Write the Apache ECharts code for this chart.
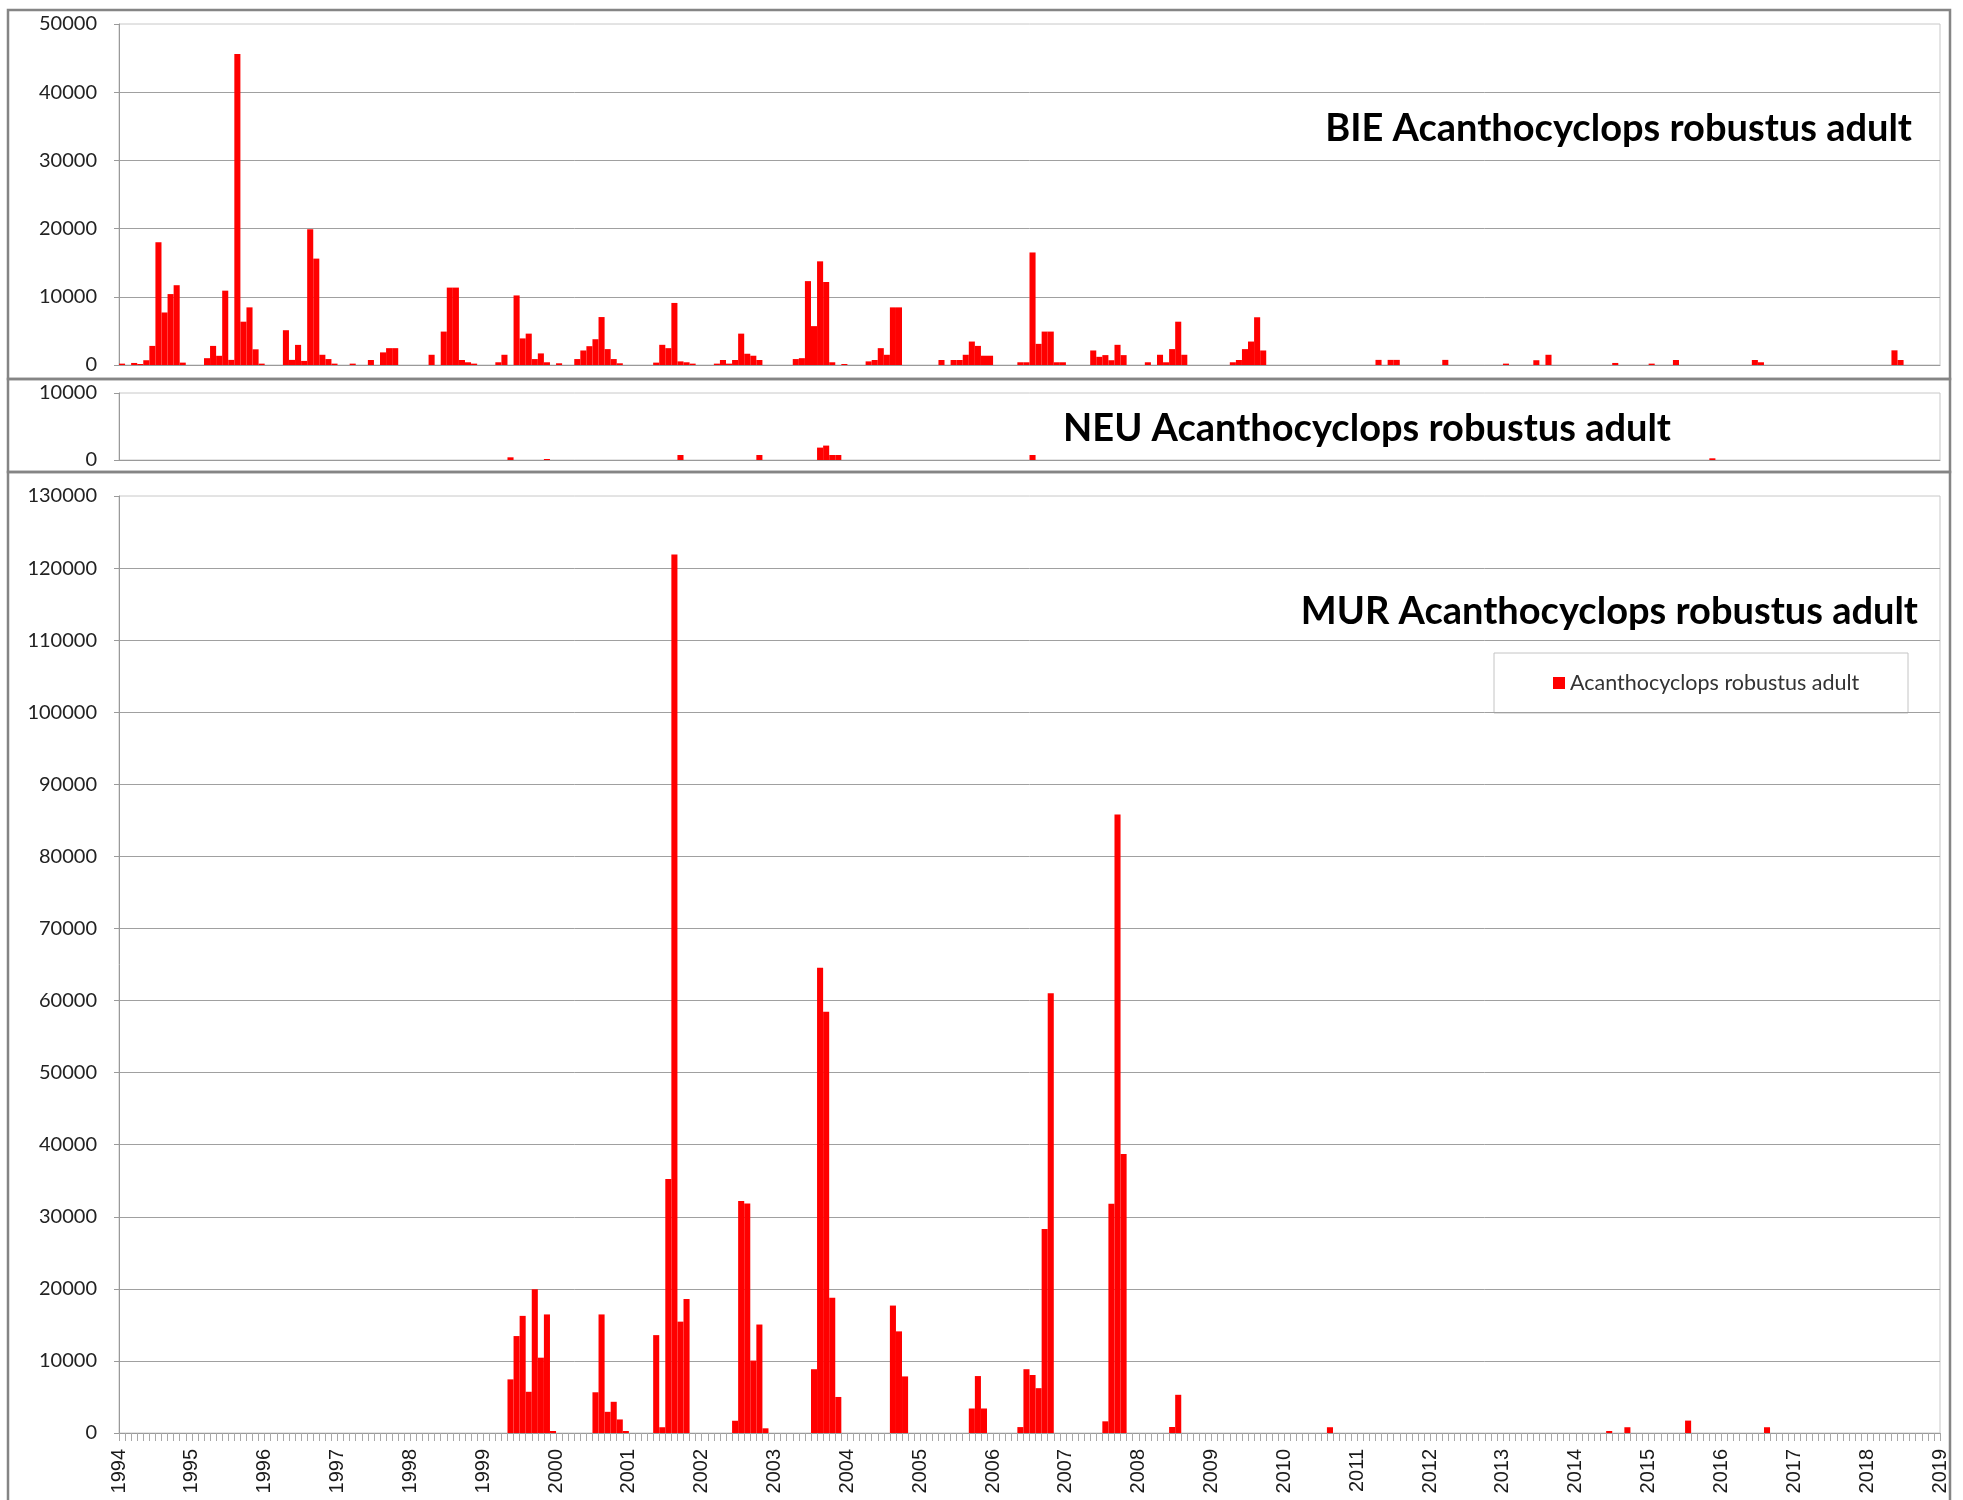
<!DOCTYPE html>
<html>
<head>
<meta charset="utf-8">
<script src="https://cdn.jsdelivr.net/npm/echarts@6/dist/echarts.min.js"></script>
<style>
html,body{margin:0;padding:0;background:#fff;}
#chart{width:1963px;height:1500px;}
</style>
</head>
<body>
<div id="chart"></div>
<script>
// ---------- DATA ----------
const yearTicks = [1994, 2019];
const seriesName = 'Acanthocyclops robustus adult';
const titleBIE = 'BIE Acanthocyclops robustus adult';
const titleNEU = 'NEU Acanthocyclops robustus adult';
const titleMUR = 'MUR Acanthocyclops robustus adult';

const bieMonths = ['1994-01','1994-03','1994-04','1994-05','1994-06','1994-07','1994-08','1994-09','1994-10','1994-11',
 '1995-03','1995-04','1995-05','1995-06','1995-07','1995-08','1995-09','1995-10','1995-11','1995-12',
 '1996-04','1996-05','1996-06','1996-07','1996-08','1996-09','1996-10','1996-11','1996-12',
 '1997-03','1997-06','1997-08','1997-09','1997-10',
 '1998-04','1998-06','1998-07','1998-08','1998-09','1998-10','1998-11',
 '1999-03','1999-04','1999-06','1999-07','1999-08','1999-09','1999-10','1999-11',
 '2000-01','2000-04','2000-05','2000-06','2000-07','2000-08','2000-09','2000-10','2000-11',
 '2001-05','2001-06','2001-07','2001-08','2001-09','2001-10','2001-11',
 '2002-03','2002-04','2002-05','2002-06','2002-07','2002-08','2002-09','2002-10',
 '2003-04','2003-05','2003-06','2003-07','2003-08','2003-09','2003-10','2003-12',
 '2004-04','2004-05','2004-06','2004-07','2004-08','2004-09',
 '2005-04','2005-06','2005-07','2005-08','2005-09','2005-10','2005-11','2005-12',
 '2006-05','2006-06','2006-07','2006-08','2006-09','2006-10','2006-11','2006-12',
 '2007-05','2007-06','2007-07','2007-08','2007-09','2007-10',
 '2008-02','2008-04','2008-05','2008-06','2008-07','2008-08',
 '2009-04','2009-05','2009-06','2009-07','2009-08','2009-09',
 '2011-04','2011-06','2011-07','2012-03','2013-01','2013-06','2013-08','2014-07','2015-01','2015-05',
 '2016-06','2016-07','2018-05','2018-06'];
const bieValues = [200,300,150,700,2800,18000,7700,10400,11700,350,
 1000,2800,1350,10900,750,45600,6350,8450,2300,200,
 5100,750,2950,600,19900,15600,1500,870,200,
 200,730,1850,2470,2470,
 1500,4900,11350,11350,730,400,200,
 400,1500,10200,3900,4600,870,1700,400,
 250,870,2130,2760,3780,7030,2330,870,250,
 350,2960,2470,9100,530,400,200,
 200,730,200,730,4600,1650,1360,730,
 870,1000,12300,5700,15200,12170,400,150,
 530,730,2470,1500,8450,8450,
 730,730,730,1500,3440,2800,1360,1360,
 400,400,16500,3100,4900,4900,400,400,
 2130,1200,1450,700,2960,1450,
 400,1500,400,2330,6350,1500,
 400,730,2330,3440,7000,2130,
 750,750,750,750,200,700,1500,300,200,730,
 730,400,2150,730];

const neuMonths = ['1999-05','1999-11','2001-09','2002-10','2003-08','2003-09','2003-10','2003-11','2006-07','2015-11'];
const neuValues = [400,150,750,750,1850,2150,750,750,750,250];

const murMonths = ['1999-05','1999-06','1999-07','1999-08','1999-09','1999-10','1999-11','1999-12',
 '2000-07','2000-08','2000-09','2000-10','2000-11','2000-12',
 '2001-05','2001-06','2001-07','2001-08','2001-09','2001-10',
 '2002-06','2002-07','2002-08','2002-09','2002-10','2002-11',
 '2003-07','2003-08','2003-09','2003-10','2003-11',
 '2004-08','2004-09','2004-10',
 '2005-09','2005-10','2005-11',
 '2006-05','2006-06','2006-07','2006-08','2006-09','2006-10',
 '2007-07','2007-08','2007-09','2007-10',
 '2008-06','2008-07',
 '2010-08','2014-06','2014-09','2015-07','2016-08'];
const murValues = [7440,13450,16250,5720,19960,10450,16450,280,
 5650,16450,2940,4330,1880,280,
 13580,800,35250,121900,15450,18600,
 1700,32200,31850,10050,15050,650,
 8850,64550,58450,18750,5000,
 17680,14100,7850,
 3400,7900,3400,
 820,8850,8050,6220,28300,61000,
 1620,31800,85800,38700,
 830,5300,
 800,280,800,1720,800];

const yMaxBIE = 50000, yMaxNEU = 10000, yMaxMUR = 130000, yStep = 10000;

// ---------- BUILD ----------
function toX(s){ const p = s.split('-').map(Number); return p[0] + (p[1] - 0.5) / 12; }
function pairs(ms, vs){ return ms.map((m, i) => [toX(m), vs[i]]); }

const W = 1963;
const plotLeft = 119, plotRight = 1940;
const nMonths = (yearTicks[1] - yearTicks[0]) * 12;
const barW = (plotRight - plotLeft) / nMonths;
const gridDefs = [
  {top: 24, height: 341},
  {top: 393, height: 67},
  {top: 496, height: 937}
];
const red = '#FF0000';
const gridLineColor = '#a0a0a0';
const axisColor = '#9a9a9a';
const labelFont = 'Lato, "Open Sans", sans-serif';

function makeY(idx, max){
  return {
    type: 'value', gridIndex: idx, min: 0, max: max, interval: yStep,
    axisLine: {show: true, lineStyle: {color: axisColor, width: 1}},
    axisTick: {show: true, length: 5, lineStyle: {color: axisColor}},
    axisLabel: {fontFamily: labelFont, fontSize: 20, color: '#222', margin: 22,
      formatter: v => String(v)},
    splitLine: {show: true, showMaxLine: false, lineStyle: {color: gridLineColor, width: 1}}
  };
}
function makeX(idx, withLabels){
  const ax = {
    type: 'value', gridIndex: idx, min: yearTicks[0], max: yearTicks[1], interval: 1,
    axisLine: {show: true, onZero: false, lineStyle: {color: axisColor, width: 1}},
    splitLine: {show: false},
    axisTick: {show: false},
    axisLabel: {show: false}
  };
  if (withLabels){
    ax.axisTick = {show: true, length: 8, lineStyle: {color: '#a8a8a8'}};
    ax.minorTick = {show: true, splitNumber: 12, length: 8, lineStyle: {color: '#a8a8a8'}};
    ax.axisLabel = {show: true, rotate: 90, margin: 16, fontFamily: '"Liberation Sans", Arial, sans-serif',
      fontSize: 20, color: '#1a1a1a', formatter: v => String(v)};
  }
  return ax;
}
function makeSeries(idx, name, data){
  return {
    type: 'bar', name: name, xAxisIndex: idx, yAxisIndex: idx, data: data,
    barWidth: barW, itemStyle: {color: red}, animation: false
  };
}
function frame(x, y, w, h){
  return {type: 'rect', shape: {x: x, y: y, width: w, height: h}, silent: true,
    style: {fill: 'none', stroke: '#858585', lineWidth: 2.5}, z: 100};
}

const titleStyle = {fontFamily: labelFont, fontWeight: 'bold', fontSize: 38, color: '#000', lineHeight: 38};

const option = {
  animation: false,
  backgroundColor: '#fff',
  title: [
    {text: titleBIE, right: W - 1912, top: 110, padding: 0, textStyle: titleStyle},
    {text: titleNEU, right: W - 1671, top: 410, padding: 0, textStyle: titleStyle},
    {text: titleMUR, right: W - 1918, top: 593, padding: 0, textStyle: titleStyle}
  ],
  legend: {
    data: [{name: seriesName, icon: 'rect'}],
    left: 1553, top: 672, padding: 0, itemWidth: 12, itemHeight: 12, itemGap: 5,
    textStyle: {fontFamily: labelFont, fontSize: 21.5, color: '#333', padding: [0, 0, 0, 0]}
  },
  grid: gridDefs.map(g => ({left: plotLeft, right: W - plotRight, top: g.top, height: g.height,
    show: true, borderColor: '#c8c8c8', borderWidth: 1, backgroundColor: 'transparent', containLabel: false})),
  xAxis: [makeX(0, false), makeX(1, false), makeX(2, true)],
  yAxis: [makeY(0, yMaxBIE), makeY(1, yMaxNEU), makeY(2, yMaxMUR)],
  series: [
    makeSeries(0, seriesName, pairs(bieMonths, bieValues)),
    makeSeries(1, seriesName, pairs(neuMonths, neuValues)),
    makeSeries(2, seriesName, pairs(murMonths, murValues))
  ],
  graphic: [
    frame(8, 10, 1942, 369),
    frame(8, 379, 1942, 93),
    frame(8, 472, 1942, 1040),
    {type: 'rect', shape: {x: 1494, y: 653, width: 414, height: 60}, silent: true, z: -1,
      style: {fill: '#fff', stroke: '#c4c4c4', lineWidth: 1}}
  ]
};

const chart = echarts.init(document.getElementById('chart'), null, {renderer: 'canvas'});
chart.setOption(option);
</script>
</body>
</html>
